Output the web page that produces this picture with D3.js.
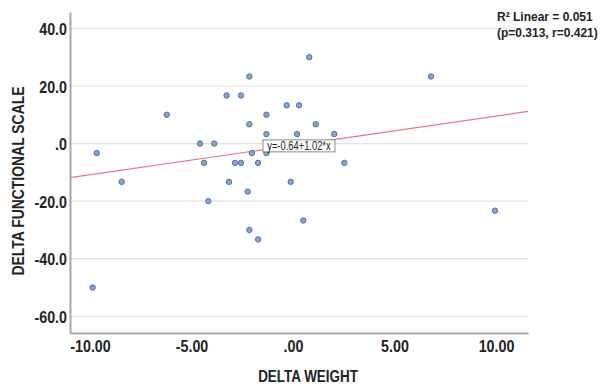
<!DOCTYPE html>
<html>
<head>
    <meta charset="utf-8">
    <title>Delta weight vs delta functional scale</title>
    <script src="https://d3js.org/d3.v7.min.js"></script>
    <style>
        body { margin: 0; background: #fff; }
        text { font-family: "Liberation Sans", Arial, sans-serif; fill: #232323; }
    </style>
</head>
<body>
<div id="chart"></div>
<script type="text/javascript">

// data
const weightDelta = [-9.87, -9.67, -8.44, -6.22, -4.58, -4.38, -4.17, -3.88, -3.27, -3.15,
                     -2.86, -2.56, -2.56, -2.15, -2.15, -2.23, -2.15, -2.03, -1.72, -1.72,
                     -1.31, -1.31, -1.31, -0.31, -0.11, 0.20, 0.30, 0.51, 0.80, 1.12,
                     2.03, 2.53, 6.80, 9.95];
const functionalDelta = [-50.0, -3.3, -13.3, 10.0, 0.0, -6.7, -20.0, 0.0, 16.7, -13.3,
                         -6.7, 16.7, -6.7, 23.3, 6.7, -16.7, -30.0, -3.3, -6.7, -33.3,
                         10.0, 3.3, -3.3, 13.3, -13.3, 3.3, 13.3, -26.7, 30.0, 6.7,
                         3.3, -6.7, 23.3, -23.3];
const xTicks = [-10, -5, 0, 5, 10];
const yTicks = [40, 20, 0, -20, -40, -60];
const fitIntercept = -0.64;
const fitSlope = 1.02;
const fitLabel = "y=-0.64+1.02*x";
const statLines = ["R² Linear = 0.051", "(p=0.313, r=0.421)"];

function fmt(v, digits) {
    // SPSS style: drop the leading zero
    return v.toFixed(digits).replace(/^0\./, ".");
}

// squeeze glyphs horizontally to get the narrow look of the original font
function condense(sel, factor) {
    sel.each(function() {
        let len = this.getComputedTextLength();
        d3.select(this)
            .attr("textLength", len * factor)
            .attr("lengthAdjust", "spacingAndGlyphs");
    });
}

function render_scatter() {

    let W = 603, H = 384;
    let margin = {top: 12, right: 75, bottom: 51, left: 70};
    let w = W - margin.left - margin.right;
    let h = H - margin.top - margin.bottom;

    let svg = d3.select("#chart")
        .append("svg")
            .attr("width", W)
            .attr("height", H);

    let g = svg.append("g")
        .attr("transform", "translate(" + margin.left + "," + margin.top + ")");

    let xScale = d3.scaleLinear()
        .domain([-10.985, 11.576])
        .range([0, w]);

    let yScale = d3.scaleLinear()
        .domain([-65.8, 45.7])
        .range([h, 0]);

    // horizontal grid lines
    g.selectAll("line.grid")
        .data(yTicks)
        .enter()
        .append("line")
        .attr("class", "grid")
        .attr("x1", 0)
        .attr("x2", w)
        .attr("y1", d => yScale(d))
        .attr("y2", d => yScale(d))
        .attr("stroke", "#e4e2e2")
        .attr("stroke-width", 1.2);

    let xAxis = d3.axisBottom(xScale)
        .tickValues(xTicks)
        .tickSize(0)
        .tickPadding(7)
        .tickFormat(d => fmt(d, 2));

    let yAxis = d3.axisLeft(yScale)
        .tickValues(yTicks)
        .tickSize(0)
        .tickPadding(3)
        .tickFormat(d => fmt(d, 1));

    let gx = g.append("g")
        .attr("transform", "translate(0," + h + ")")
        .call(xAxis);
    let gy = g.append("g")
        .call(yAxis);

    [gx, gy].forEach(a => {
        a.select(".domain").attr("stroke", "#a8a8a8").attr("stroke-width", 2);
        a.selectAll("text")
            .attr("font-family", null)
            .attr("font-size", "17px")
            .attr("font-weight", "bold")
            .attr("fill", "#232323")
            .call(condense, 0.84);
    });
    gy.selectAll("text").attr("dy", "0.36em");

    // fit line
    let xd = xScale.domain();
    g.append("line")
        .attr("x1", xScale(xd[0]))
        .attr("y1", yScale(fitIntercept + fitSlope * xd[0]))
        .attr("x2", xScale(xd[1]))
        .attr("y2", yScale(fitIntercept + fitSlope * xd[1]))
        .attr("stroke", "#ee7580")
        .attr("stroke-width", 1.2);

    // points
    g.selectAll("circle")
        .data(weightDelta.map((d, i) => [d, functionalDelta[i]]))
        .enter()
        .append("circle")
        .attr("cx", d => xScale(d[0]))
        .attr("cy", d => yScale(d[1]))
        .attr("r", 2.7)
        .attr("fill", "#86a3d2")
        .attr("stroke", "#4f71a8")
        .attr("stroke-width", 1);

    // fit equation box
    let lx = xScale(-1.48), ly = yScale(1.28);
    let lab = g.append("g").attr("transform", "translate(" + lx + "," + ly + ")");
    lab.append("rect")
        .attr("x", 0)
        .attr("y", 0)
        .attr("width", 72)
        .attr("height", 12)
        .attr("fill", "#fff")
        .attr("stroke", "#8a8a8a")
        .attr("stroke-width", 1);
    lab.append("text")
        .attr("x", 36)
        .attr("y", 10)
        .attr("text-anchor", "middle")
        .attr("font-size", "12px")
        .text(fitLabel)
        .call(condense, 0.78);

    // R squared text
    svg.selectAll("text.stat")
        .data(statLines)
        .enter()
        .append("text")
        .attr("class", "stat")
        .attr("x", 497)
        .attr("y", (d, i) => 20.7 + i * 16.5)
        .attr("font-size", "12px")
        .attr("font-weight", "bold")
        .text(d => d);

    // axis titles
    svg.append("text")
        .attr("x", 308)
        .attr("y", 381.5)
        .attr("text-anchor", "middle")
        .attr("font-size", "17px")
        .attr("font-weight", "bold")
        .text("DELTA WEIGHT")
        .call(condense, 0.79);

    svg.append("text")
        .attr("transform", "translate(24,181) rotate(-90)")
        .attr("text-anchor", "middle")
        .attr("font-size", "16px")
        .attr("font-weight", "bold")
        .text("DELTA FUNCTIONAL SCALE")
        .call(condense, 0.87);
}

render_scatter();

</script>
</body>
</html>
